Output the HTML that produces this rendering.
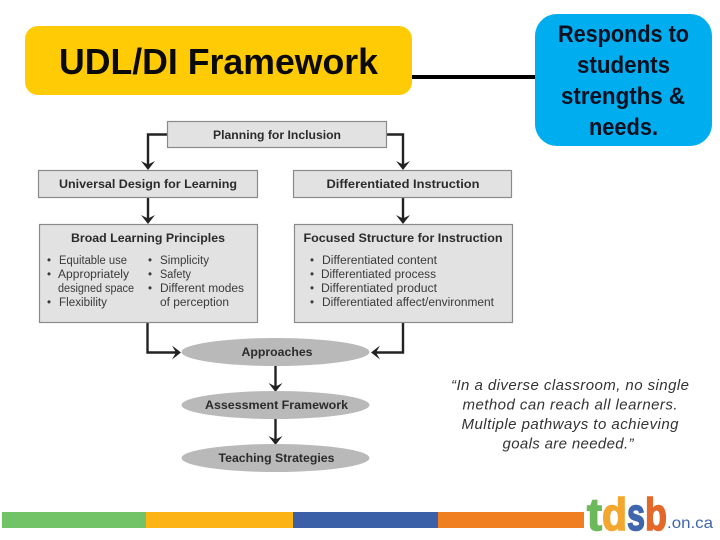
<!DOCTYPE html>
<html>
<head>
<meta charset="utf-8">
<style>
html,body{margin:0;padding:0;background:#fff;width:720px;height:540px;overflow:hidden}
svg{display:block}
text{font-family:"Liberation Sans",sans-serif}
.d{filter:blur(.3px)}
.h{font-weight:bold;font-size:12px;fill:#2b2b2b;text-anchor:middle}
.b{font-size:11.500px;fill:#3a3a3a}
.box{fill:#e2e2e2;stroke:#8a8a8a;stroke-width:1.2}
.e{fill:#b9b9b9}
.l{fill:none;stroke:#222;stroke-width:2.400}
.a{fill:#222}
.q{font-style:italic;font-size:15px;fill:#333;text-anchor:middle}
.c{font-weight:bold;font-size:24px;fill:#0a1020;text-anchor:middle}
.g{font-size:45px;font-weight:bold;stroke-width:1.500}
</style>
</head>
<body>
<svg width="720" height="540" viewBox="0 0 720 540" xmlns="http://www.w3.org/2000/svg">
<rect width="720" height="540" fill="#fff"/>

<!-- Header shapes -->
<rect x="25" y="26" width="387" height="69" rx="13" fill="#ffcb05"/>
<text x="59" y="74" font-size="36" font-weight="bold" fill="#0a0a0a" textLength="319" lengthAdjust="spacingAndGlyphs">UDL/DI Framework</text>
<rect x="412" y="75" width="124" height="4" fill="#000"/>
<rect x="535" y="14" width="177" height="132" rx="22" fill="#00adee"/>
<text class="c" x="623.500" y="42" textLength="131" lengthAdjust="spacingAndGlyphs">Responds to</text>
<text class="c" x="623.500" y="73" textLength="93" lengthAdjust="spacingAndGlyphs">students</text>
<text class="c" x="623" y="104" textLength="124" lengthAdjust="spacingAndGlyphs">strengths &amp;</text>
<text class="c" x="623.500" y="135" textLength="69" lengthAdjust="spacingAndGlyphs">needs.</text>

<g class="d">
<!-- Connectors -->
<path class="l" d="M167 134.500H148V166"/>
<path class="l" d="M386 134.500H403V166"/>
<path class="l" d="M148 198V220"/>
<path class="l" d="M403 198V220"/>
<path class="l" d="M147.500 322V352.500H178"/>
<path class="l" d="M403 322V352.500H375"/>
<path class="l" d="M275.500 366V388"/>
<path class="l" d="M275.500 419V441"/>
<path class="a" d="M141 161L148 164.500L155 161L148 170Z"/>
<path class="a" d="M396 161L403 164.500L410 161L403 170Z"/>
<path class="a" d="M141 215L148 218.500L155 215L148 224Z"/>
<path class="a" d="M396 215L403 218.500L410 215L403 224Z"/>
<path class="a" d="M172 345.500L176 352.500L172 359.500L181 352.500Z"/>
<path class="a" d="M380 345.500L376 352.500L380 359.500L371 352.500Z"/>
<path class="a" d="M268.500 383L275.500 386.500L282.500 383L275.500 392Z"/>
<path class="a" d="M268.500 436L275.500 439.500L282.500 436L275.500 445Z"/>

<!-- Boxes -->
<rect class="box" x="167.500" y="121.500" width="219" height="26"/>
<text class="h" x="277" y="139" textLength="128" lengthAdjust="spacingAndGlyphs">Planning for Inclusion</text>
<rect class="box" x="38.500" y="170.500" width="219" height="27"/>
<text class="h" x="148" y="188" textLength="178" lengthAdjust="spacingAndGlyphs">Universal Design for Learning</text>
<rect class="box" x="293.500" y="170.500" width="218" height="27"/>
<text class="h" x="403" y="188" textLength="153" lengthAdjust="spacingAndGlyphs">Differentiated Instruction</text>

<rect class="box" x="39.500" y="224.500" width="218" height="98"/>
<text class="h" x="148" y="242" textLength="154" lengthAdjust="spacingAndGlyphs">Broad Learning Principles</text>
<text class="b" x="47" y="264">•</text>
<text class="b" x="59" y="264" textLength="68" lengthAdjust="spacingAndGlyphs">Equitable use</text>
<text class="b" x="47" y="278">•</text>
<text class="b" x="58" y="278" textLength="71" lengthAdjust="spacingAndGlyphs">Appropriately</text>
<text class="b" x="58" y="292" textLength="76" lengthAdjust="spacingAndGlyphs">designed space</text>
<text class="b" x="47" y="306">•</text>
<text class="b" x="59" y="306" textLength="48" lengthAdjust="spacingAndGlyphs">Flexibility</text>
<text class="b" x="148" y="264">•</text>
<text class="b" x="160" y="264" textLength="49" lengthAdjust="spacingAndGlyphs">Simplicity</text>
<text class="b" x="148" y="278">•</text>
<text class="b" x="160" y="278" textLength="31" lengthAdjust="spacingAndGlyphs">Safety</text>
<text class="b" x="148" y="292">•</text>
<text class="b" x="160" y="292" textLength="84" lengthAdjust="spacingAndGlyphs">Different modes</text>
<text class="b" x="160" y="306" textLength="69" lengthAdjust="spacingAndGlyphs">of perception</text>

<rect class="box" x="294.500" y="224.500" width="218" height="98"/>
<text class="h" x="403" y="242" textLength="199" lengthAdjust="spacingAndGlyphs">Focused Structure for Instruction</text>
<text class="b" x="310" y="264">•</text>
<text class="b" x="322" y="264" textLength="115" lengthAdjust="spacingAndGlyphs">Differentiated content</text>
<text class="b" x="310" y="278">•</text>
<text class="b" x="321" y="278" textLength="115" lengthAdjust="spacingAndGlyphs">Differentiated process</text>
<text class="b" x="310" y="292">•</text>
<text class="b" x="321" y="292" textLength="116" lengthAdjust="spacingAndGlyphs">Differentiated product</text>
<text class="b" x="310" y="306">•</text>
<text class="b" x="322" y="306" textLength="172" lengthAdjust="spacingAndGlyphs">Differentiated affect/environment</text>

<!-- Ellipses -->
<ellipse class="e" cx="275.500" cy="352" rx="94" ry="14"/>
<text class="h" x="277" y="356" textLength="71" lengthAdjust="spacingAndGlyphs">Approaches</text>
<ellipse class="e" cx="275.500" cy="405" rx="94" ry="14"/>
<text class="h" x="276.500" y="409" textLength="143" lengthAdjust="spacingAndGlyphs">Assessment Framework</text>
<ellipse class="e" cx="275.500" cy="458" rx="94" ry="14"/>
<text class="h" x="276.500" y="462" textLength="116" lengthAdjust="spacingAndGlyphs">Teaching Strategies</text>
</g>

<!-- Quote -->
<text class="q" x="570" y="390" textLength="238" lengthAdjust="spacing">“In a diverse classroom, no single</text>
<text class="q" x="570" y="409.500" textLength="215" lengthAdjust="spacing">method can reach all learners.</text>
<text class="q" x="570" y="429" textLength="217" lengthAdjust="spacing">Multiple pathways to achieving</text>
<text class="q" x="568" y="448.500" textLength="131" lengthAdjust="spacing">goals are needed.”</text>

<!-- Footer bar -->
<rect x="2" y="512" width="144" height="16" fill="#72c267"/>
<rect x="146" y="512" width="147" height="16" fill="#fbb316"/>
<rect x="293" y="512" width="145" height="16" fill="#3b60a8"/>
<rect x="438" y="512" width="146" height="16" fill="#f07f22"/>

<!-- Logo -->
<text class="g" x="587" y="530" fill="#6cb95c" stroke="#6cb95c" textLength="15" lengthAdjust="spacingAndGlyphs">t</text>
<text class="g" x="602" y="530" fill="#f2a72e" stroke="#f2a72e" textLength="25" lengthAdjust="spacingAndGlyphs">d</text>
<text class="g" x="627" y="530" fill="#3f66ad" stroke="#3f66ad" textLength="18" lengthAdjust="spacingAndGlyphs">s</text>
<text class="g" x="645" y="530" fill="#e4682a" stroke="#e4682a" textLength="22" lengthAdjust="spacingAndGlyphs">b</text>
<text x="667" y="528" font-size="16" fill="#3f66ad" textLength="46" lengthAdjust="spacingAndGlyphs">.on.ca</text>
</svg>
</body>
</html>
